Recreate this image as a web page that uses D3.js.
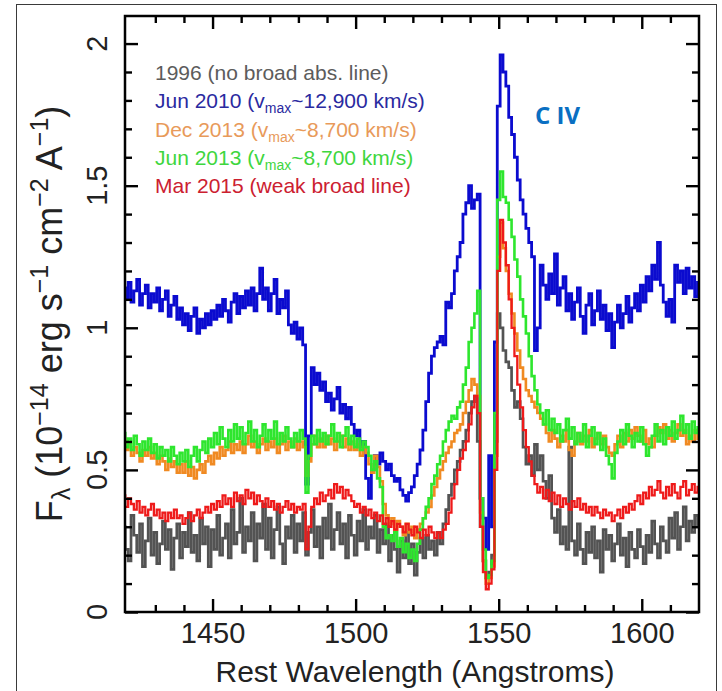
<!DOCTYPE html>
<html>
<head>
<meta charset="utf-8">
<script src="https://cdn.jsdelivr.net/npm/d3@7"></script>
<style>
  html, body { margin: 0; padding: 0; background: #fff; }
  svg { display: block; font-family: "Liberation Sans", Arial, sans-serif; }
</style>
</head>
<body>
<svg id="chart" width="722" height="691"></svg>
<script>
// Rest wavelength bins (Angstroms), 1 A wide
const wavelength = [
  1419,1420,1421,1422,1423,1424,1425,1426,1427,1428,
  1429,1430,1431,1432,1433,1434,1435,1436,1437,1438,
  1439,1440,1441,1442,1443,1444,1445,1446,1447,1448,
  1449,1450,1451,1452,1453,1454,1455,1456,1457,1458,
  1459,1460,1461,1462,1463,1464,1465,1466,1467,1468,
  1469,1470,1471,1472,1473,1474,1475,1476,1477,1478,
  1479,1480,1481,1482,1483,1484,1485,1486,1487,1488,
  1489,1490,1491,1492,1493,1494,1495,1496,1497,1498,
  1499,1500,1501,1502,1503,1504,1505,1506,1507,1508,
  1509,1510,1511,1512,1513,1514,1515,1516,1517,1518,
  1519,1520,1521,1522,1523,1524,1525,1526,1527,1528,
  1529,1530,1531,1532,1533,1534,1535,1536,1537,1538,
  1539,1540,1541,1542,1543,1544,1545,1546,1547,1548,
  1549,1550,1551,1552,1553,1554,1555,1556,1557,1558,
  1559,1560,1561,1562,1563,1564,1565,1566,1567,1568,
  1569,1570,1571,1572,1573,1574,1575,1576,1577,1578,
  1579,1580,1581,1582,1583,1584,1585,1586,1587,1588,
  1589,1590,1591,1592,1593,1594,1595,1596,1597,1598,
  1599,1600,1601,1602,1603,1604,1605,1606,1607,1608,
  1609,1610,1611,1612,1613,1614,1615,1616,1617,1618,
  1619,1620
];

// F_lambda in units of 1e-14 erg s^-1 cm^-2 A^-1, one value per bin
const flux1996 = [
  0.30,0.22,0.18,0.34,0.27,0.21,0.31,0.16,0.25,0.33,
  0.20,0.28,0.17,0.24,0.32,0.22,0.29,0.15,0.26,0.31,
  0.19,0.28,0.23,0.35,0.21,0.27,0.18,0.33,0.24,0.30,
  0.16,0.29,0.22,0.34,0.20,0.26,0.31,0.19,0.36,0.24,
  0.28,0.40,0.21,0.30,0.25,0.35,0.18,0.31,0.26,0.38,
  0.22,0.33,0.19,0.29,0.37,0.24,0.17,0.30,0.26,0.34,
  0.21,0.31,0.25,0.35,0.20,0.28,0.36,0.23,0.30,0.19,
  0.33,0.26,0.38,0.22,0.29,0.35,0.24,0.31,0.19,0.34,
  0.27,0.20,0.32,0.25,0.36,0.22,0.30,0.26,0.34,0.21,
  0.29,0.24,0.31,0.18,0.27,0.22,0.14,0.25,0.19,0.28,
  0.17,0.24,0.13,0.21,0.26,0.19,0.27,0.22,0.25,0.20,
  0.28,0.24,0.31,0.36,0.41,0.45,0.50,0.53,0.57,0.60,
  0.64,0.70,0.74,0.76,0.60,0.30,0.18,0.12,0.14,0.20,
  0.60,1.05,1.00,0.92,0.88,0.86,0.78,0.72,0.74,0.68,
  0.58,0.52,0.55,0.48,0.59,0.50,0.55,0.46,0.40,0.48,
  0.33,0.28,0.36,0.24,0.30,0.22,0.58,0.25,0.20,0.31,
  0.22,0.17,0.28,0.21,0.30,0.19,0.25,0.14,0.29,0.22,
  0.27,0.18,0.24,0.31,0.20,0.26,0.16,0.28,0.22,0.19,
  0.29,0.23,0.17,0.27,0.21,0.32,0.24,0.19,0.30,0.25,
  0.21,0.33,0.26,0.35,0.22,0.30,0.37,0.25,0.32,0.28,
  0.34,0.30
];

const fluxJun2010 = [
  1.14,1.10,1.16,1.09,1.13,1.17,1.08,1.12,1.15,1.07,
  1.12,1.09,1.14,1.06,1.10,1.13,1.04,1.08,1.11,1.03,
  1.07,1.01,1.05,0.99,1.04,1.07,0.98,1.03,1.00,1.05,
  1.01,1.06,1.03,1.08,1.04,1.10,1.06,1.02,1.09,1.12,
  1.05,1.11,1.07,1.13,1.08,1.14,1.06,1.12,1.21,1.10,
  1.14,1.06,1.12,1.17,1.05,1.10,1.07,1.13,1.01,0.98,
  1.02,0.96,1.00,0.94,0.45,0.62,0.86,0.80,0.84,0.78,
  0.81,0.74,0.77,0.71,0.75,0.79,0.70,0.73,0.68,0.72,
  0.66,0.62,0.64,0.58,0.60,0.47,0.40,0.50,0.55,0.52,
  0.56,0.53,0.50,0.52,0.48,0.46,0.47,0.43,0.41,0.39,
  0.42,0.44,0.48,0.52,0.57,0.64,0.74,0.84,0.90,0.93,
  0.95,0.97,0.94,1.09,1.07,1.12,1.20,1.25,1.30,1.40,
  1.44,1.50,1.42,1.45,1.47,0.40,0.33,0.22,0.55,0.30,
  0.95,1.78,1.96,1.90,1.85,1.74,1.68,1.60,1.52,1.45,
  1.40,1.35,1.30,1.25,0.92,1.00,1.22,1.15,1.10,1.19,
  1.12,1.26,1.08,1.14,1.18,1.06,1.12,1.03,1.09,1.14,
  1.04,0.98,1.08,1.12,1.01,1.06,1.13,1.03,1.08,0.99,
  1.05,0.93,1.02,1.08,1.00,1.05,1.11,1.02,1.07,1.12,
  1.06,1.15,1.09,1.18,1.13,1.22,1.17,1.30,1.15,1.09,
  1.04,1.10,1.02,1.22,1.16,1.20,1.12,1.21,1.14,1.18,
  1.11,1.16
];

const fluxDec2013 = [
  0.61,0.57,0.59,0.55,0.58,0.56,0.53,0.57,0.55,0.58,
  0.54,0.56,0.52,0.55,0.53,0.50,0.54,0.51,0.53,0.49,
  0.52,0.49,0.53,0.48,0.51,0.47,0.50,0.52,0.49,0.53,
  0.55,0.52,0.56,0.54,0.58,0.55,0.57,0.60,0.56,0.59,
  0.57,0.60,0.56,0.59,0.62,0.58,0.60,0.56,0.59,0.61,
  0.57,0.60,0.58,0.61,0.56,0.59,0.62,0.57,0.60,0.58,
  0.61,0.57,0.60,0.58,0.48,0.53,0.59,0.62,0.58,0.61,
  0.58,0.62,0.59,0.61,0.57,0.60,0.62,0.58,0.61,0.57,
  0.60,0.57,0.59,0.55,0.58,0.56,0.52,0.49,0.55,0.51,
  0.46,0.38,0.34,0.31,0.33,0.29,0.32,0.30,0.27,0.31,
  0.28,0.30,0.26,0.29,0.31,0.33,0.35,0.37,0.41,0.44,
  0.47,0.50,0.53,0.56,0.58,0.60,0.63,0.64,0.66,0.70,
  0.74,0.78,0.82,0.80,0.76,0.35,0.18,0.10,0.12,0.16,
  0.55,1.25,1.37,1.28,1.20,1.12,1.05,0.98,0.92,0.86,
  0.82,0.78,0.76,0.74,0.72,0.70,0.68,0.66,0.63,0.60,
  0.64,0.61,0.58,0.62,0.60,0.64,0.57,0.55,0.60,0.63,
  0.59,0.62,0.60,0.64,0.58,0.61,0.63,0.59,0.62,0.58,
  0.56,0.55,0.59,0.62,0.58,0.63,0.60,0.64,0.61,0.65,
  0.62,0.60,0.64,0.59,0.61,0.58,0.62,0.65,0.63,0.66,
  0.61,0.64,0.60,0.63,0.66,0.62,0.64,0.59,0.62,0.60,
  0.64,0.61
];

const fluxJun2013 = [
  0.63,0.58,0.61,0.57,0.62,0.59,0.55,0.60,0.57,0.61,
  0.56,0.59,0.54,0.58,0.55,0.57,0.53,0.58,0.55,0.52,
  0.56,0.53,0.57,0.51,0.55,0.58,0.53,0.57,0.60,0.56,
  0.61,0.58,0.63,0.59,0.65,0.61,0.58,0.64,0.60,0.66,
  0.61,0.65,0.59,0.63,0.67,0.60,0.64,0.58,0.62,0.66,
  0.60,0.64,0.61,0.67,0.59,0.63,0.60,0.65,0.61,0.58,
  0.63,0.60,0.64,0.61,0.42,0.55,0.62,0.59,0.64,0.60,
  0.63,0.59,0.62,0.66,0.60,0.63,0.58,0.62,0.65,0.59,
  0.62,0.58,0.61,0.57,0.60,0.58,0.55,0.50,0.53,0.47,
  0.44,0.30,0.26,0.27,0.25,0.28,0.23,0.26,0.21,0.24,
  0.19,0.22,0.18,0.24,0.29,0.33,0.37,0.40,0.45,0.48,
  0.52,0.55,0.60,0.64,0.67,0.69,0.68,0.72,0.74,0.80,
  0.86,0.95,1.00,1.05,1.13,0.40,0.22,0.12,0.13,0.18,
  0.70,1.45,1.55,1.46,1.44,1.38,1.32,1.24,1.18,1.10,
  1.04,0.98,0.90,0.83,0.78,0.73,0.70,0.66,0.71,0.64,
  0.68,0.63,0.66,0.60,0.64,0.68,0.61,0.65,0.59,0.63,
  0.60,0.66,0.58,0.62,0.65,0.59,0.63,0.57,0.61,0.55,
  0.52,0.47,0.56,0.60,0.64,0.59,0.66,0.62,0.58,0.63,
  0.60,0.65,0.59,0.55,0.58,0.62,0.66,0.60,0.64,0.59,
  0.65,0.62,0.67,0.61,0.64,0.69,0.63,0.66,0.61,0.67,
  0.63,0.65
];

const fluxMar2015 = [
  0.41,0.37,0.40,0.38,0.36,0.39,0.35,0.37,0.34,0.36,
  0.38,0.34,0.36,0.33,0.35,0.32,0.35,0.33,0.36,0.33,
  0.34,0.31,0.33,0.35,0.32,0.34,0.36,0.33,0.35,0.37,
  0.35,0.38,0.36,0.39,0.37,0.41,0.38,0.40,0.37,0.42,
  0.39,0.41,0.38,0.43,0.40,0.42,0.38,0.41,0.39,0.37,
  0.40,0.37,0.39,0.36,0.38,0.35,0.37,0.39,0.36,0.38,
  0.35,0.37,0.36,0.38,0.22,0.30,0.37,0.40,0.38,0.42,
  0.39,0.41,0.43,0.40,0.45,0.42,0.44,0.40,0.43,0.41,
  0.39,0.37,0.38,0.35,0.37,0.34,0.36,0.33,0.35,0.32,
  0.34,0.31,0.33,0.30,0.32,0.29,0.31,0.30,0.28,0.31,
  0.29,0.27,0.30,0.28,0.26,0.29,0.27,0.30,0.28,0.26,
  0.28,0.26,0.29,0.31,0.35,0.40,0.45,0.50,0.54,0.57,
  0.60,0.66,0.72,0.76,0.70,0.30,0.14,0.08,0.10,0.15,
  0.50,1.20,1.38,1.30,1.22,1.10,1.00,0.90,0.80,0.72,
  0.64,0.58,0.53,0.48,0.45,0.42,0.44,0.40,0.43,0.39,
  0.42,0.38,0.41,0.37,0.40,0.38,0.36,0.39,0.37,0.40,
  0.36,0.38,0.35,0.37,0.34,0.37,0.35,0.33,0.36,0.34,
  0.35,0.32,0.34,0.36,0.33,0.37,0.35,0.38,0.36,0.39,
  0.41,0.38,0.42,0.40,0.44,0.41,0.43,0.46,0.42,0.40,
  0.44,0.41,0.45,0.42,0.40,0.44,0.46,0.41,0.43,0.45,
  0.42,0.44
];

// Axis ticks
const xMajorTicks = [1450, 1500, 1550, 1600];
const xMinorTicks = [1430, 1440, 1460, 1470, 1480, 1490, 1510, 1520, 1530, 1540, 1560, 1570, 1580, 1590, 1610];
const yMajorTicks = [0, 0.5, 1, 1.5, 2];
const yTickLabels = ["0", "0.5", "1", "1.5", "2"];
const yMinorTicks = [0.1, 0.2, 0.3, 0.4, 0.6, 0.7, 0.8, 0.9, 1.1, 1.2, 1.3, 1.4, 1.6, 1.7, 1.8, 1.9];

// Legend entries (drawing order = legend order)
const seriesNames = ["1996", "Jun 2010", "Dec 2013", "Jun 2013", "Mar 2015"];
const seriesNotes = [
  [" (no broad abs. line)"],
  [" (v", "max", "~12,900 km/s)"],
  [" (v", "max", "~8,700 km/s)"],
  [" (v", "max", "~8,700 km/s)"],
  [" (weak broad line)"]
];
const seriesFlux = [flux1996, fluxJun2010, fluxDec2013, fluxJun2013, fluxMar2015];
const lineColors = ["#535353", "#0b0bcf", "#f08a22", "#2ee62e", "#ee1a1a"];
const lineWidths = [2.7, 2.8, 2.6, 2.6, 2.3];
const textColors = ["#5c5c5c", "#2a2aa0", "#e89a5a", "#3ed63e", "#cc2030"];

const svg = d3.select("#chart");
const plotLeft = 125, plotRight = 699, plotTop = 16, plotBottom = 612;

// outer frame of the figure
svg.append("rect")
  .attr("x", 16.5).attr("y", 4.5).attr("width", 700).attr("height", 700)
  .attr("fill", "none").attr("stroke", "#3a3a3a").attr("stroke-width", 1);

const x = d3.scaleLinear().domain([1419.4, 1620]).range([plotLeft, plotRight]);
const y = d3.scaleLinear().domain([0, 2.097]).range([plotBottom, plotTop]);

svg.append("clipPath").attr("id", "plotClip")
  .append("rect").attr("x", plotLeft).attr("y", plotTop)
  .attr("width", plotRight - plotLeft).attr("height", plotBottom - plotTop);

// spectra as histogram-style step lines
const line = d3.line()
  .x((d, i) => x(wavelength[i]))
  .y(d => y(d))
  .curve(d3.curveStep);

const spectra = svg.append("g").attr("clip-path", "url(#plotClip)");
seriesFlux.forEach((flux, k) => {
  spectra.append("path")
    .datum(flux)
    .attr("d", line)
    .attr("fill", "none")
    .attr("stroke", lineColors[k])
    .attr("stroke-width", lineWidths[k])
    .attr("stroke-linejoin", "miter");
});

// inward-pointing ticks on all four sides
function styleAxis(g) {
  g.select(".domain").remove();
  g.selectAll(".tick line").attr("stroke", "#000").attr("stroke-width", 2.4);
}
const MAJ = 13, MIN = 7;
svg.append("g").attr("transform", `translate(0,${plotBottom})`)
  .call(d3.axisBottom(x).tickValues(xMajorTicks).tickSize(-MAJ).tickPadding(10).tickFormat(d3.format("d")))
  .call(styleAxis)
  .call(g => g.selectAll("text").attr("font-size", 29).attr("fill", "#222")
    .attr("font-family", "'Liberation Sans', Arial, sans-serif"));
svg.append("g").attr("transform", `translate(0,${plotBottom})`)
  .call(d3.axisBottom(x).tickValues(xMinorTicks).tickSize(-MIN).tickFormat(""))
  .call(styleAxis);
svg.append("g").attr("transform", `translate(0,${plotTop})`)
  .call(d3.axisTop(x).tickValues(xMajorTicks).tickSize(-MAJ).tickFormat(""))
  .call(styleAxis);
svg.append("g").attr("transform", `translate(0,${plotTop})`)
  .call(d3.axisTop(x).tickValues(xMinorTicks).tickSize(-MIN).tickFormat(""))
  .call(styleAxis);
svg.append("g").attr("transform", `translate(${plotLeft},0)`)
  .call(d3.axisLeft(y).tickValues(yMajorTicks).tickSize(-MAJ).tickFormat(""))
  .call(styleAxis);
svg.append("g").attr("transform", `translate(${plotLeft},0)`)
  .call(d3.axisLeft(y).tickValues(yMinorTicks).tickSize(-MIN).tickFormat(""))
  .call(styleAxis);
svg.append("g").attr("transform", `translate(${plotRight},0)`)
  .call(d3.axisRight(y).tickValues(yMajorTicks).tickSize(-MAJ).tickFormat(""))
  .call(styleAxis);
svg.append("g").attr("transform", `translate(${plotRight},0)`)
  .call(d3.axisRight(y).tickValues(yMinorTicks).tickSize(-MIN).tickFormat(""))
  .call(styleAxis);

// plot box
svg.append("rect")
  .attr("x", plotLeft).attr("y", plotTop)
  .attr("width", plotRight - plotLeft).attr("height", plotBottom - plotTop)
  .attr("fill", "none").attr("stroke", "#000").attr("stroke-width", 2.5);

// rotated y tick labels
svg.append("g").selectAll("text")
  .data(yMajorTicks)
  .join("text")
  .attr("transform", d => `translate(107,${y(d)}) rotate(-90)`)
  .attr("text-anchor", "middle")
  .attr("font-size", 29)
  .attr("fill", "#222")
  .text((d, i) => yTickLabels[i]);

// x axis title
svg.append("text")
  .attr("x", (plotLeft + plotRight) / 2 + 3).attr("y", 682)
  .attr("text-anchor", "middle")
  .attr("font-size", 30)
  .attr("fill", "#222")
  .text("Rest Wavelength (Angstroms)");

// y axis title with sub/superscripts
const yTitle = svg.append("text")
  .attr("transform", `translate(62,${(plotTop + plotBottom) / 2}) rotate(-90)`)
  .attr("text-anchor", "middle")
  .attr("font-size", 36)
  .attr("fill", "#222");
yTitle.append("tspan").text("F");
yTitle.append("tspan").attr("font-size", 25).attr("dy", 8).text("\u03bb");
yTitle.append("tspan").attr("dy", -8).text(" (10");
yTitle.append("tspan").attr("font-size", 25).attr("dy", -14).text("\u221214");
yTitle.append("tspan").attr("dy", 14).text(" erg s");
yTitle.append("tspan").attr("font-size", 25).attr("dy", -14).text("\u22121");
yTitle.append("tspan").attr("dy", 14).text(" cm");
yTitle.append("tspan").attr("font-size", 25).attr("dy", -14).text("\u22122");
yTitle.append("tspan").attr("dy", 14).text(" A");
yTitle.append("tspan").attr("font-size", 25).attr("dy", -14).text("\u22121");
yTitle.append("tspan").attr("dy", 14).text(")");

// legend
const legend = svg.append("g");
seriesNames.forEach((name, k) => {
  const t = legend.append("text")
    .attr("x", 155).attr("y", 80 + k * 28.3)
    .attr("font-size", 21)
    .attr("fill", textColors[k]);
  const parts = seriesNotes[k];
  t.append("tspan").text(name + parts[0]);
  if (parts.length > 1) {
    t.append("tspan").attr("font-size", 14).attr("dy", 5).text(parts[1]);
    t.append("tspan").attr("dy", -5).text(parts[2]);
  }
});

// line label
svg.append("text")
  .attr("x", 535).attr("y", 124)
  .attr("font-family", "'Open Sans', 'Liberation Sans', sans-serif")
  .attr("font-weight", 700)
  .attr("font-size", 24)
  .attr("fill", "#0a6fc2")
  .text("C IV");
</script>
</body>
</html>
